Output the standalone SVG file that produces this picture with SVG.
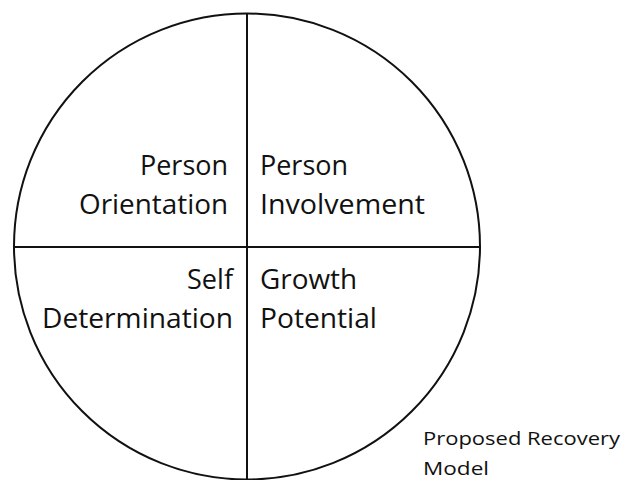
<svg xmlns="http://www.w3.org/2000/svg" width="622" height="480" viewBox="0 0 622 480">
  <style>
    .ring { fill: none; stroke: #111; stroke-width: 2; }
    .axis { stroke: #111; stroke-width: 2; }
    .lbl { font-family: "Open Sans", "Noto Sans", sans-serif; font-size: 28px; fill: #111; }
    .cap { font-family: "Open Sans", "Noto Sans", sans-serif; font-size: 19px; fill: #111; }
  </style>
  <rect width="622" height="480" fill="#fff"/>
  <!-- outer circle and quadrant dividers -->
  <g id="frame">
    <circle class="ring" cx="247" cy="246.5" r="233"/>
  </g>
  <g id="connectors">
    <line class="axis" x1="247" y1="13.5" x2="247" y2="479.5"/>
    <line class="axis" x1="14" y1="247" x2="480" y2="247"/>
  </g>
  <!-- quadrant labels -->
  <g id="person-orientation">
    <text class="lbl" x="140" y="175" textLength="88" lengthAdjust="spacingAndGlyphs">Person</text>
    <text class="lbl" x="79" y="214" textLength="149" lengthAdjust="spacingAndGlyphs">Orientation</text>
  </g>
  <g id="person-involvement">
    <text class="lbl" x="260" y="175" textLength="88" lengthAdjust="spacingAndGlyphs">Person</text>
    <text class="lbl" x="260" y="214" textLength="165" lengthAdjust="spacingAndGlyphs">Involvement</text>
  </g>
  <g id="self-determination">
    <text class="lbl" x="187" y="289" textLength="46" lengthAdjust="spacingAndGlyphs">Self</text>
    <text class="lbl" x="42" y="328" textLength="191" lengthAdjust="spacingAndGlyphs">Determination</text>
  </g>
  <g id="growth-potential">
    <text class="lbl" x="260" y="289" textLength="97" lengthAdjust="spacingAndGlyphs">Growth</text>
    <text class="lbl" x="260" y="328" textLength="117" lengthAdjust="spacingAndGlyphs">Potential</text>
  </g>
  <!-- caption -->
  <g id="caption">
    <text class="cap" x="423" y="445" textLength="197" lengthAdjust="spacingAndGlyphs">Proposed Recovery</text>
    <text class="cap" x="423" y="475" textLength="66" lengthAdjust="spacingAndGlyphs">Model</text>
  </g>
</svg>
